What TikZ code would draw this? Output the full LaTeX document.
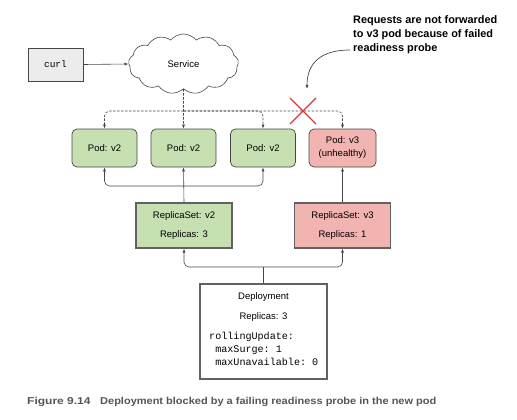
\documentclass[tikz,border=0pt]{standalone}
\usepackage{fontspec}
\setmainfont{Liberation Sans}
\setmonofont{Liberation Mono}
\usetikzlibrary{shapes.symbols,arrows.meta,calc}
\definecolor{podgreen}{RGB}{199,224,178}
\definecolor{podred}{RGB}{242,180,176}
\definecolor{curlgray}{RGB}{236,236,236}
\definecolor{edgegray}{RGB}{70,70,70}
\definecolor{xred}{RGB}{232,50,56}
\definecolor{capgray}{RGB}{85,85,85}
\tikzset{
  podbox/.style={draw=edgegray, line width=0.7pt, rounded corners=5pt, minimum width=65pt, minimum height=38pt, align=center, font=\fontsize{9.5}{13}\selectfont, inner sep=1pt},
  rsbox/.style={draw=edgegray!85, line width=1.1pt, minimum width=96pt, minimum height=45pt, align=center, font=\fontsize{9.5}{19.5}\selectfont},
  conn/.style={draw=edgegray, line width=0.6pt, rounded corners=5pt},
  tip/.style={-{Latex[length=4pt,width=3pt]}},
  dconn/.style={conn, dash pattern=on 2.5pt off 1.5pt},
  captext/.style={font=\bfseries\fontsize{10}{11}\selectfont, text=capgray, anchor=west, inner sep=0pt},
}
\begin{document}
\begin{tikzpicture}[x=1pt,y=-1pt]
\useasboundingbox (0,0) rectangle (517,420);
% curl and service
\node[draw=edgegray, line width=0.7pt, fill=curlgray, minimum width=55pt, minimum height=33pt, font=\ttfamily\fontsize{9.5}{11}\selectfont] (curl) at (55.5,64.5) {curl};
\node[cloud, cloud puffs=13, cloud puff arc=100, aspect=1.8, draw=edgegray, line width=0.6pt, minimum width=110pt, minimum height=60pt, inner sep=0pt, font=\fontsize{9.5}{11}\selectfont] (svc) at (183.5,64) {Service};
\draw[conn, tip] (curl.east) -- (svc.west);
% pods
\node[podbox, fill=podgreen] (p1) at (104.5,148) {Pod: v2};
\node[podbox, fill=podgreen] (p2) at (183.5,148) {Pod: v2};
\node[podbox, fill=podgreen] (p3) at (263,148) {Pod: v2};
\node[podbox, fill=podred, minimum width=67pt] (p4) at (342.5,148) {Pod: v3\\(unhealthy)};
% dashed routes
\coordinate (dhub) at (183.5,111);
\draw[dconn, tip] (svc.south) -- (p2.north);
\draw[dconn, tip] (dhub) -| (p1.north);
\draw[dconn, tip] (dhub) -| (p3.north);
\draw[dconn, tip] (dhub) -| (p4.north);
% red X
\coordinate (xc) at (303,111);
\draw[xred, line width=1.1pt] ($(xc)+(-13,-13)$) -- ($(xc)+(13,13)$);
\draw[xred, line width=1.1pt] ($(xc)+(-13,13)$) -- ($(xc)+(13,-13)$);
% replica sets
\node[rsbox, fill=podgreen] (rs2) at (184,225.5) {ReplicaSet: v2\\Replicas: 3};
\node[rsbox, fill=podred] (rs3) at (342.5,225.5) {ReplicaSet: v3\\Replicas: 1};
\coordinate (shub) at (183.5,186);
\draw[conn, tip] (rs2.north) -- (p2.south);
\draw[conn, tip] (shub) -| (p1.south);
\draw[conn, tip] (shub) -| (p3.south);
\draw[conn, tip] (rs3.north) -- (p4.south);
% deployment
\node[draw=edgegray!85, line width=1.1pt, fill=white, minimum width=127pt, minimum height=95pt] (dep) at (263.5,331.5) {};
\node[font=\fontsize{9.5}{11}\selectfont] (deptitle) at (263.5,297) {Deployment};
\node[font=\fontsize{9.5}{11}\selectfont] (deprep) at (263.5,317) {Replicas: 3};
\node[font=\ttfamily\fontsize{10.1}{13.2}\selectfont, align=left, anchor=north west, inner sep=0pt] (depcode) at (209,332) {rollingUpdate:\\\ maxSurge: 1\\\ maxUnavailable: 0};
\coordinate (bhub) at (263.5,267);
\draw[conn] (dep.north) -- (bhub);
\draw[conn, tip] (bhub) -| (rs2.south);
\draw[conn, tip] (bhub) -| (rs3.south);
% annotation
\node[font=\bfseries\fontsize{10.9}{14}\selectfont, align=left, anchor=north west, inner sep=0pt] (note) at (353,15) {Requests are not forwarded\\to v3 pod because of failed\\readiness probe};
\coordinate (noteend) at (307,89);
\draw[edgegray, line width=0.7pt, tip] ([xshift=-3pt]note.south west |- 0,50) .. controls (322,50) and (307,62) .. (noteend);
% caption
\node[captext] (capnum) at (27,402) {\scalebox{1.2}[1]{Figure 9.14}};
\node[captext] (cap) at (100,402) {\scalebox{1.1}[1]{Deployment blocked by a failing readiness probe in the new pod}};
\end{tikzpicture}
\end{document}
